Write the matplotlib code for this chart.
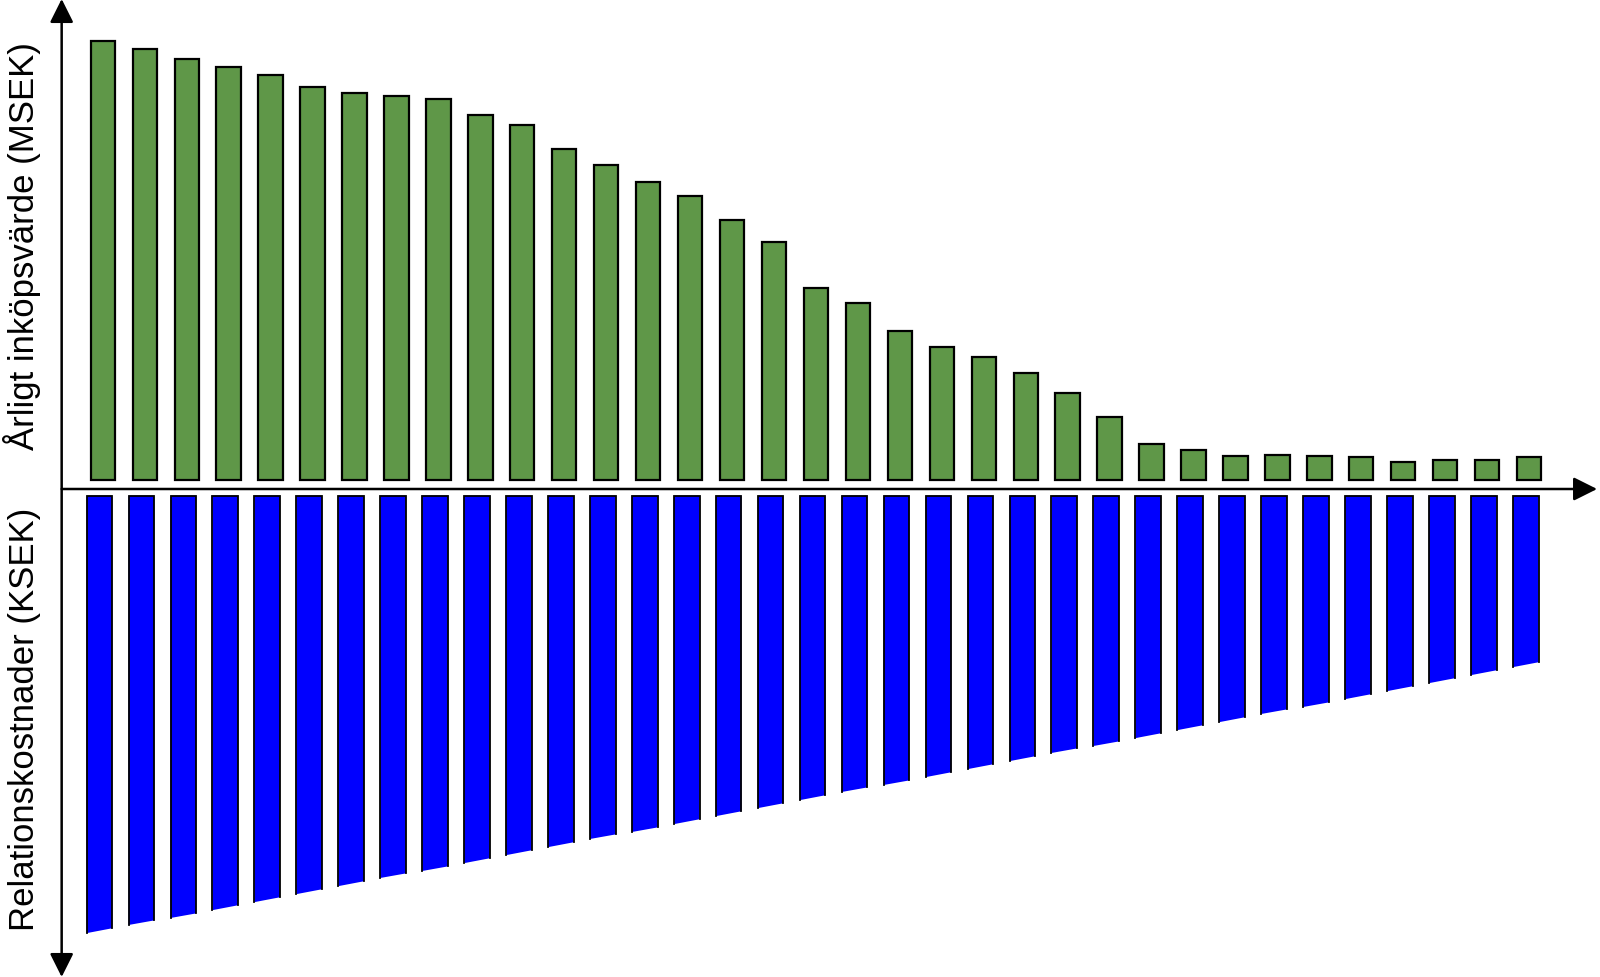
"""
Inköpsvärde vs relationskostnader per leverantör
Green bars above the axis, blue trapezoids below it
"""
import numpy as np
import matplotlib
import matplotlib.pyplot as plt

matplotlib.use('Agg')
plt.rcParams['font.family'] = ['Liberation Sans', 'DejaVu Sans']

# Årligt inköpsvärde (MSEK), one bar per supplier, sorted
inkopsvarde = [43.9, 43.1, 42.1, 41.3, 40.5, 39.3, 38.7, 38.4, 38.1, 36.5,
               35.5, 33.1, 31.5, 29.8, 28.4, 26.0, 23.8, 19.2, 17.7, 14.9,
               13.3, 12.3, 10.7, 8.7, 6.3, 3.6, 3.0, 2.4, 2.5, 2.4,
               2.3, 1.8, 2.0, 2.0, 2.3]

# Relationskostnader (KSEK), read at the middle of each bar
relationskostnader = [43.5, 42.7, 42.0, 41.2, 40.4, 39.6, 38.8, 38.0, 37.3, 36.5,
                      35.7, 34.9, 34.1, 33.4, 32.6, 31.8, 31.0, 30.2, 29.4, 28.7,
                      27.9, 27.1, 26.3, 25.5, 24.8, 24.0, 23.2, 22.4, 21.6, 20.9,
                      20.1, 19.3, 18.5, 17.7, 16.9]

ylabel_top = 'Årligt inköpsvärde (MSEK)'
ylabel_bottom = 'Relationskostnader (KSEK)'

GREEN = '#5F9748'
BLUE = '#0000FF'

x = np.arange(len(inkopsvarde))

fig = plt.figure(figsize=(16, 9.78), dpi=100)
ax = fig.add_axes([0, 0, 1, 1])
ax.set_xlim(-2.37, 35.77)
ax.set_ylim(-48.8, 49.0)
ax.axis('off')

# upper bars
ax.bar(x + 0.08, inkopsvarde, width=0.58, bottom=0.95, color=GREEN,
       edgecolor='black', linewidth=1.6, zorder=2)

# lower bars, bottoms follow the slope of the cost curve
w = 0.61
top = -0.67
slope = np.gradient(relationskostnader)
for xi, val, s in zip(x, relationskostnader, slope):
    left, right = xi - w / 2, xi + w / 2
    bl = top - (val - s * w / 2)
    br = top - (val + s * w / 2)
    ax.fill([left, right, right, left], [top, top, br, bl], color=BLUE,
            linewidth=0, zorder=2)
    ax.plot([left, left, right, right], [bl, top, top, br], color='black',
            linewidth=1.3, solid_joinstyle='miter', zorder=3)

# axes with arrow heads
x_axis = -0.9
arrow = dict(arrowstyle='-|>,head_length=1.0,head_width=0.5', color='black',
             linewidth=1.8, shrinkA=0, shrinkB=0, mutation_scale=14.4)
ax.annotate('', xy=(35.7, 0), xytext=(x_axis, 0), arrowprops=arrow)
arrow2 = dict(arrow, arrowstyle='<|-|>,head_length=1.0,head_width=0.5')
ax.annotate('', xy=(x_axis, 49.0), xytext=(x_axis, -48.8), arrowprops=arrow2)

fig.text(34 / 1600, 1 - 246 / 978, ylabel_top, rotation=90, fontsize=25,
         ha='center', va='baseline', rotation_mode='anchor')
fig.text(34 / 1600, 1 - 719 / 978, ylabel_bottom, rotation=90, fontsize=25,
         ha='center', va='baseline', rotation_mode='anchor')

fig.savefig('out.png', dpi=100)
plt.close(fig)
